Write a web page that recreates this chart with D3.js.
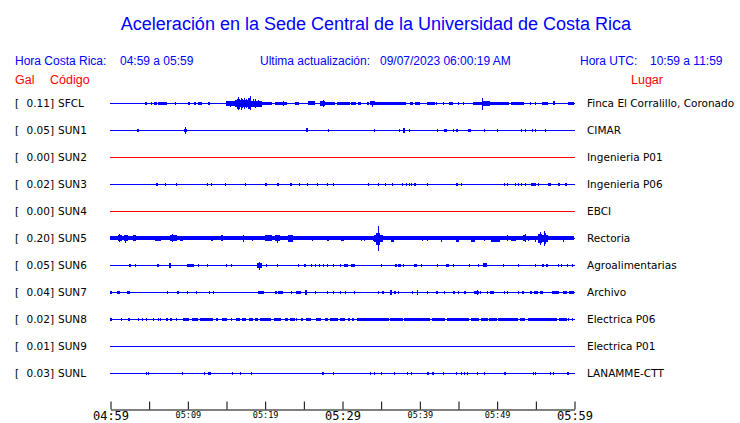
<!DOCTYPE html>
<html>
<head>
<meta charset="utf-8">
<script src="https://cdn.jsdelivr.net/npm/d3@7/dist/d3.min.js"></script>
<style>
body { margin: 0; background: #fff; }
</style>
</head>
<body>
<div id="chart"></div>
<script>
const WIDTH = 740;
const HEIGHT = 423;

const title = "Aceleración en la Sede Central de la Universidad de Costa Rica";
const horaLocal = "04:59 a 05:59";
const horaUTC = "10:59 a 11:59";
const actualizacion = "09/07/2023 06:00:19 AM";

const codes = ["SFCL", "SUN1", "SUN2", "SUN3", "SUN4", "SUN5", "SUN6", "SUN7", "SUN8", "SUN9", "SUNL"];
const places = ["Finca El Corralillo, Coronado", "CIMAR", "Ingenieria P01", "Ingenieria P06", "EBCI",
    "Rectoria", "Agroalimentarias", "Archivo", "Electrica P06", "Electrica P01", "LANAMME-CTT"];
const peakGal = [0.11, 0.05, 0.00, 0.02, 0.00, 0.20, 0.05, 0.04, 0.02, 0.01, 0.03];

// minutes after 04:59
const tickMinutes = [0, 5, 10, 15, 20, 25, 30, 35, 40, 45, 50, 55, 60];
const labelMinutes = [0, 10, 20, 30, 40, 50, 60];
const labelText = ["04:59", "05:09", "05:19", "05:29", "05:39", "05:49", "05:59"];

// envelope bursts: [from min, to min, half amplitude gal] or [min, gal]
const sfclEvents = [[4.5,4.8,0.015],[5.3,5.4,0.01],[5.7,6.1,0.015],[6.2,7.3,0.015],[8.45,0.01],[10.1,10.3,0.015],
    [10.9,11.1,0.015],[11.4,11.9,0.015],[12.7,13.0,0.015],[15.0,16.2,0.03],[15.5,0.04],[15.9,0.035],
    [16.2,16.4,0.05],[16.5,0.1],[16.4,16.8,0.075],[16.9,0.09],[16.8,17.9,0.05],[17.1,0.07],[17.3,0.08],[17.6,0.065],
    [17.9,18.2,0.08],[18.05,0.11],[18.2,19.6,0.04],[18.5,0.06],[18.8,0.065],[19.2,0.05],[19.6,20.9,0.02],
    [21.3,22.9,0.02],[22.4,0.035],[23.9,24.4,0.015],[25.6,26.5,0.025],[27.1,27.8,0.03],[27.5,0.05],
    [27.8,29.1,0.02],[29.3,31.0,0.02],[31.2,31.9,0.015],[32.1,32.5,0.015],[33.2,33.4,0.02],[33.6,34.2,0.025],
    [33.9,0.04],[34.2,38.3,0.02],[38.8,39.2,0.015],[39.4,40.0,0.015],[41.0,42.0,0.02],[42.2,0.012],[43.1,0.012],
    [43.9,44.4,0.012],[45.0,0.008],[45.7,0.008],[46.9,48.0,0.02],[48.1,0.09],[48.2,49.1,0.03],[49.1,51.5,0.02],
    [51.9,53.6,0.012],[54.3,0.015],[54.9,0.015],[55.8,56.6,0.015],[57.3,57.5,0.025],[59.2,60,0.015]];
const sun1Events = [[3.5,3.7,0.012],[9.7,0.05],[9.6,10.0,0.015],[25.4,25.6,0.025],[28.2,0.012],[34.1,0.012],
    [37.4,0.012],[37.9,38.1,0.03],[38.7,0.015],[42.3,0.012],[43.2,43.6,0.015],[44.4,0.008],[44.8,45.1,0.015],
    [46.3,46.7,0.015],[48.4,0.012],[50.0,0.008],[53.1,0.008],[53.6,0.008],[54.6,0.02],[55.0,0.015],[56.3,0.012]];
const sun2Events = [];
const sun3Events = [[6.0,6.3,0.015],[7.07,0.012],[8.5,0.012],[12.5,0.012],[13.1,0.006],[14.9,0.012],[17.4,0.006],
    [20.0,20.3,0.015],[21.6,21.9,0.015],[23.3,23.6,0.015],[24.5,0.008],[25.5,0.008],[26.8,0.012],[28.1,0.008],
    [28.9,0.008],[33.4,0.012],[34.6,34.7,0.012],[35.5,0.008],[36.5,0.008],[37.7,0.012],[38.3,0.012],[38.6,0.012],
    [38.96,0.012],[39.3,39.6,0.015],[41.0,0.012],[44.7,45.0,0.015],[45.4,0.012],[50.9,0.008],[51.3,0.008],
    [52.4,0.012],[52.7,0.012],[53.2,0.008],[53.6,0.008],[54.4,55.1,0.02],[55.3,0.008],[56.6,57.0,0.015],
    [57.9,58.2,0.015],[58.9,59.1,0.015]];
const sun4Events = [];
const sun5Events = [[0,60,0.025],[1.0,1.5,0.045],[1.2,0.06],[1.8,2.3,0.045],[2.0,0.055],[3.0,3.4,0.045],
    [5.8,6.6,0.035],[7.7,8.6,0.045],[8.0,0.06],[9.0,9.4,0.035],[13.0,13.3,0.035],[14.4,14.6,0.045],[17.2,0.05],
    [18.4,0.035],[20.0,20.9,0.045],[21.3,21.9,0.045],[21.6,0.055],[23.0,23.7,0.05],[26.1,0.03],[28.0,28.3,0.035],
    [29.9,30.3,0.035],[32.5,0.035],[32.9,0.035],[34.0,0.035],[34.2,35.3,0.05],[34.4,34.9,0.09],[34.7,0.2],
    [35.1,0.05],[36.4,36.8,0.04],[40.3,0.035],[41.0,0.03],[42.8,0.04],[44.8,45.2,0.04],[46.7,47.2,0.04],
    [48.4,0.035],[49.3,50.4,0.04],[51.3,0.045],[51.9,52.5,0.035],[53.4,53.8,0.045],[53.6,0.06],[54.1,0.035],
    [54.9,0.04],[55.3,55.8,0.07],[55.6,0.1],[55.8,56.6,0.05],[56.1,0.12],[56.3,0.08],[58.6,0.04]];
const sun6Events = [[2.4,2.6,0.015],[3.2,0.015],[6.1,6.4,0.015],[7.6,7.8,0.03],[10.0,10.9,0.015],[11.4,0.008],
    [12.6,0.008],[15.0,0.012],[15.6,0.012],[19.05,19.65,0.03],[19.3,0.055],[20.2,0.012],[21.6,0.012],[24.3,0.012],
    [25.1,25.3,0.012],[26.0,0.012],[26.5,0.012],[27.0,0.012],[27.5,0.012],[28.1,0.012],[28.9,0.008],[29.8,0.012],
    [30.3,30.8,0.015],[31.2,31.7,0.015],[35.0,0.012],[36.9,37.2,0.012],[37.3,37.7,0.012],[37.9,0.008],
    [39.3,39.7,0.015],[40.2,0.015],[42.3,0.012],[43.4,43.8,0.015],[44.4,0.008],[46.4,0.012],[47.6,0.008],
    [48.2,48.7,0.025],[50.8,0.012],[52.8,0.008],[54.9,0.012],[55.9,56.1,0.015],[56.4,56.6,0.015],[57.9,0.012],
    [58.3,0.012],[59.1,0.015],[59.7,0.008]];
const sun7Events = [[0,0.26,0.015],[0.95,1.3,0.015],[2.2,2.6,0.015],[7.4,0.008],[8.6,8.8,0.015],[10.0,0.008],
    [11.1,0.008],[12.8,0.012],[13.3,0.012],[19.2,20.0,0.015],[21.3,21.5,0.015],[21.7,22.4,0.015],[23.4,0.008],
    [24.1,24.7,0.015],[25.2,25.4,0.03],[26.5,0.012],[28.1,0.008],[28.8,0.008],[29.8,29.9,0.015],[30.4,0.012],
    [31.6,0.015],[34.6,0.008],[35.2,35.4,0.015],[36.2,36.4,0.03],[36.7,36.9,0.015],[37.3,0.015],[39.1,0.012],
    [39.7,39.8,0.03],[41.0,0.008],[42.2,42.5,0.015],[43.2,0.012],[44.4,44.7,0.015],[45.0,0.012],[45.8,46.1,0.015],
    [47.1,47.7,0.02],[47.4,0.03],[47.9,0.015],[48.8,0.012],[49.1,0.012],[49.3,49.7,0.015],[51.0,0.015],[51.3,0.015],
    [52.7,0.012],[53.3,53.6,0.012],[54.3,54.5,0.015],[54.8,55.3,0.015],[55.6,56.0,0.015],[57.2,58.1,0.02],
    [58.6,59.1,0.015],[59.4,60,0.015]];
const sun8Events = [[0,0.26,0.015],[1.46,0.008],[2.3,2.55,0.015],[3.6,0.008],[4.2,0.008],[4.7,0.008],[5.5,0.012],
    [6.2,0.012],[6.5,0.012],[7.2,7.4,0.015],[7.8,8.0,0.015],[8.5,0.012],[9.5,10.3,0.015],[10.6,11.4,0.012],
    [11.6,13.3,0.015],[13.75,14.05,0.015],[14.5,15.2,0.015],[15.6,0.012],[16.3,16.8,0.015],[17.1,17.6,0.015],
    [18.0,18.5,0.015],[18.7,19.05,0.015],[19.4,20.8,0.012],[21.2,22.1,0.015],[22.6,23.0,0.015],[23.3,23.9,0.015],
    [24.1,0.012],[24.7,25.0,0.012],[25.4,26.1,0.015],[26.6,27.2,0.015],[27.8,28.2,0.012],[28.5,29.5,0.012],
    [29.8,30.4,0.012],[30.8,31.0,0.012],[31.3,31.6,0.012],[31.9,36.0,0.015],[36.2,37.9,0.015],[38.0,41.3,0.015],
    [41.6,43.3,0.015],[43.6,46.5,0.015],[46.7,47.7,0.015],[48.0,48.9,0.015],[49.0,50.0,0.015],[50.2,52.8,0.015],
    [53.0,53.7,0.015],[54.0,57.7,0.015],[58.0,59.0,0.015],[59.2,0.012],[59.7,0.012]];
const sun9Events = [];
const sunlEvents = [[4.7,0.02],[4.9,0.02],[9.3,0.008],[12.2,0.012],[12.7,13.1,0.015],[15.8,0.006],[16.8,0.012],
    [18.2,0.006],[27.4,27.7,0.015],[28.8,0.012],[33.6,0.012],[34.1,0.008],[35.0,0.012],[36.7,0.012],[38.4,0.008],
    [38.9,0.008],[41.0,41.2,0.012],[41.6,41.9,0.02],[43.0,0.008],[44.8,0.008],[45.4,0.012],[45.8,45.9,0.015],
    [46.2,0.008],[47.5,0.012],[48.3,0.012],[50.9,51.1,0.012],[54.7,0.012],[55.0,0.008],[56.9,0.012],[57.3,0.012],
    [59.1,59.3,0.015]];

const traces = [sfclEvents, sun1Events, sun2Events, sun3Events, sun4Events, sun5Events,
    sun6Events, sun7Events, sun8Events, sun9Events, sunlEvents];

const BLUE = "#0000ff";
const RED = "#ff0000";

const svg = d3.select("#chart").append("svg")
    .attr("width", WIDTH).attr("height", HEIGHT)
    .style("font-family", "'Liberation Sans', Arial, sans-serif");

const escalaTiempo = d3.scaleLinear().domain([0, 60]).range([110, 574]);
const escalaFilas = d3.scalePoint().domain(codes).range([103, 373]);
const escalaAmp = d3.scaleLinear().domain([0, 0.2]).range([0, 12]);

// title and header
svg.append("text").attr("x", 376).attr("y", 30).attr("text-anchor", "middle")
    .attr("font-size", 18).attr("fill", BLUE).text(title);

const header = svg.append("g").attr("font-size", 12).attr("fill", BLUE);
header.append("text").attr("x", 15).attr("y", 65).text("Hora Costa Rica:");
header.append("text").attr("x", 120).attr("y", 65).text(horaLocal);
header.append("text").attr("x", 260).attr("y", 65).text("Ultima actualización:");
header.append("text").attr("x", 380).attr("y", 65).text(actualizacion);
header.append("text").attr("x", 580).attr("y", 65).text("Hora UTC:");
header.append("text").attr("x", 650).attr("y", 65).text(horaUTC);

const red = svg.append("g").attr("font-size", 12.5).attr("fill", RED);
red.append("text").attr("x", 15).attr("y", 84).text("Gal");
red.append("text").attr("x", 50).attr("y", 84).text("Código");
red.append("text").attr("x", 631).attr("y", 84).text("Lugar");

// station rows
const filas = svg.append("g").selectAll("g")
    .data(codes)
    .join("g")
    .attr("transform", d => "translate(0," + escalaFilas(d) + ")");

const etiquetas = filas.append("g")
    .attr("font-family", "'DejaVu Sans', sans-serif")
    .attr("font-size", 10.5)
    .attr("fill", "#000");
etiquetas.append("text").attr("x", 15).attr("y", 3.5).text("[");
etiquetas.append("text").attr("x", 54).attr("y", 3.5).attr("text-anchor", "end")
    .text((d, i) => peakGal[i].toFixed(2) + "]");
etiquetas.append("text").attr("x", 58).attr("y", 3.5).text(d => d);
etiquetas.append("text").attr("x", 587).attr("y", 3.5).text((d, i) => places[i]);

// baseline of each trace
filas.append("rect")
    .attr("x", escalaTiempo(0))
    .attr("y", 0)
    .attr("width", escalaTiempo(60) - escalaTiempo(0) + 1)
    .attr("height", 1)
    .attr("fill", (d, i) => peakGal[i] === 0 ? RED : BLUE);

// bursts
filas.each(function (d, i) {
    const ev = traces[i].map(e => e.length === 2 ? [e[0], e[0], e[1]] : e);
    d3.select(this).append("g")
        .attr("shape-rendering", "crispEdges")
        .selectAll("rect")
        .data(ev)
        .join("rect")
        .attr("x", e => Math.round(escalaTiempo(e[0])))
        .attr("width", e => Math.max(1, Math.round(escalaTiempo(e[1]) - escalaTiempo(e[0]))))
        .attr("y", e => -Math.max(1, Math.round(escalaAmp(e[2]))))
        .attr("height", e => Math.max(2, Math.round(2 * escalaAmp(e[2]))) + 1)
        .attr("fill", BLUE);
});

// time axis
const ejeX = d3.axisTop(escalaTiempo).tickValues(tickMinutes).tickSize(8).tickSizeOuter(0).tickFormat("");
const eje = svg.append("g")
    .attr("transform", "translate(0.5,409.5)")
    .call(ejeX);
eje.select(".domain").attr("stroke", "#000");
eje.selectAll(".tick line").attr("stroke", "#000");

svg.append("g")
    .attr("font-family", "'DejaVu Sans Mono', monospace")
    .selectAll("text")
    .data(labelMinutes)
    .join("text")
    .attr("x", d => escalaTiempo(d) + 1)
    .attr("y", (d, i) => i % 3 === 0 ? 420 : 417.5)
    .attr("text-anchor", "middle")
    .attr("font-size", (d, i) => i % 3 === 0 ? 12 : 8.5)
    .attr("fill", "#000")
    .text((d, i) => labelText[i]);
</script>
</body>
</html>
